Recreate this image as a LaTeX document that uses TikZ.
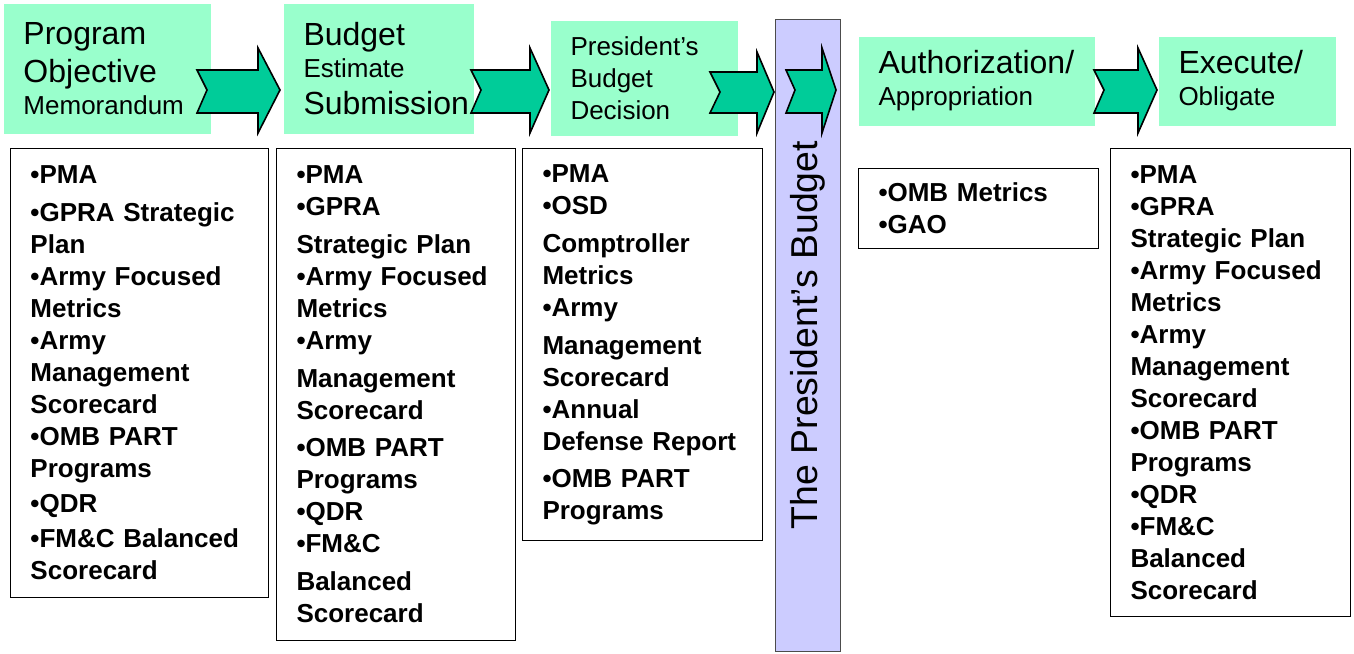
\documentclass[tikz,border=0pt]{standalone}
\usepackage{fontspec}
\setmainfont{Liberation Sans}
\definecolor{mint}{HTML}{99FFCC}
\definecolor{flowgreen}{HTML}{00CC99}
\definecolor{lilac}{HTML}{CCCCFF}
\newcommand{\hbig}[1]{{\fontsize{16}{19}\selectfont #1}}
\begin{document}
\begin{tikzpicture}[x=0.5pt, y=-0.5pt, line width=0.5pt,
  hdr/.style={fill=mint, anchor=north west, inner xsep=10pt, inner ysep=0pt,
    align=left, font=\fontsize{13}{16}\selectfont},
  lst/.style={draw, fill=white, anchor=north west, inner xsep=10pt, inner ysep=0pt,
    align=left, font=\fontsize{13}{16}\selectfont\bfseries},
  bar/.style={draw=black!70, fill=lilac, minimum width=316pt, minimum height=32.5pt,
    inner sep=0pt, font=\fontsize{18.7}{22}\selectfont},
  chev/.style={draw, fill=flowgreen, line width=0.8pt, line join=miter}]
  \useasboundingbox (0,0) rectangle (1354,653);
  % stage headers
  \node[hdr, text width=83.5pt, minimum height=65pt] (pom) at (3,3)
    {\hbig{Program}\\[3pt]\hbig{Objective}\\Memorandum};
  \node[hdr, text width=75pt, minimum height=65pt] (bes) at (283,3)
    {\hbig{Budget}\\Estimate\\[2.5pt]\hbig{Submission}};
  \node[hdr, text width=73.5pt, minimum height=57.5pt] (pbd) at (550,20)
    {President’s\\Budget\\Decision};
  \node[hdr, text width=98pt, minimum height=44.5pt] (auth) at (858,36)
    {\hbig{Authorization/}\\Appropriation};
  \node[hdr, text width=68.5pt, minimum height=44.5pt] (exec) at (1158,36)
    {\hbig{Execute/}\\Obligate};
  % metric lists under each stage
  \node[lst, text width=109pt, minimum height=224.5pt] (pomlist) at (10,148)
    {\textbullet PMA\\[3pt]
     \textbullet GPRA Strategic\\
     Plan\\
     \textbullet Army Focused\\
     Metrics\\
     \textbullet Army\\
     Management\\
     Scorecard\\
     \textbullet OMB PART\\
     Programs\\[1.5pt]
     \textbullet QDR\\[1.5pt]
     \textbullet FM\&C Balanced\\
     Scorecard};
  \node[lst, text width=99.5pt, minimum height=246pt] (beslist) at (276,148)
    {\textbullet PMA\\
     \textbullet GPRA\\[3pt]
     Strategic Plan\\
     \textbullet Army Focused\\
     Metrics\\
     \textbullet Army\\[3pt]
     Management\\
     Scorecard\\[2.5pt]
     \textbullet OMB PART\\
     Programs\\
     \textbullet QDR\\
     \textbullet FM\&C\\[3pt]
     Balanced\\
     Scorecard};
  \node[lst, text width=100pt, minimum height=196pt] (pbdlist) at (522,148)
    {\textbullet PMA\\
     \textbullet OSD\\[3pt]
     Comptroller\\
     Metrics\\
     \textbullet Army\\[3pt]
     Management\\
     Scorecard\\
     \textbullet Annual\\
     Defense Report\\[2.5pt]
     \textbullet OMB PART\\
     Programs};
  \node[lst, text width=100pt, minimum height=40pt] (authlist) at (858,168)
    {\textbullet OMB Metrics\\
     \textbullet GAO};
  \node[lst, text width=100pt, minimum height=234pt] (execlist) at (1110,148)
    {\textbullet PMA\\
     \textbullet GPRA\\
     Strategic Plan\\
     \textbullet Army Focused\\
     Metrics\\
     \textbullet Army\\
     Management\\
     Scorecard\\
     \textbullet OMB PART\\
     Programs\\
     \textbullet QDR\\
     \textbullet FM\&C\\
     Balanced\\
     Scorecard};
  % the president's budget bar
  \node[bar, rotate=90] (pres) at (807.5,335) {The President’s Budget};
  % block arrows between stages
  \draw[chev] (197,70) -- (258,70) -- (258,48) -- (280,90) -- (258,133)
    -- (258,113) -- (197,113) -- (207,90) -- cycle;
  \draw[chev] (471,70) -- (530,70) -- (530,48) -- (549,90) -- (530,133)
    -- (530,113) -- (471,113) -- (481,90) -- cycle;
  \draw[chev] (710,72) -- (757,72) -- (757,52) -- (774,92) -- (757,133)
    -- (757,113) -- (710,113) -- (720,92) -- cycle;
  \draw[chev] (786,70) -- (822,70) -- (822,48) -- (836,90) -- (822,133)
    -- (822,113) -- (786,113) -- (795,90) -- cycle;
  \draw[chev] (1094,70) -- (1138,70) -- (1138,48) -- (1157,90) -- (1138,133)
    -- (1138,113) -- (1094,113) -- (1104,90) -- cycle;
\end{tikzpicture}
\end{document}
